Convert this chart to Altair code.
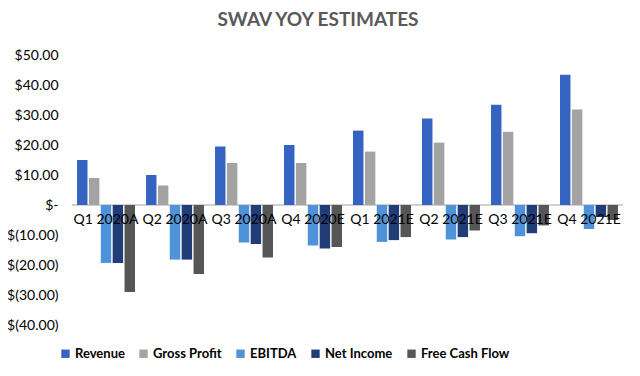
import altair as alt
import pandas as pd

quarters = ["Q1 2020A", "Q2 2020A", "Q3 2020A", "Q4 2020E",
            "Q1 2021E", "Q2 2021E", "Q3 2021E", "Q4 2021E"]
series = ["Revenue", "Gross Profit", "EBITDA", "Net Income", "Free Cash Flow"]
colors = ["#3563C2", "#A3A3A3", "#4E93D9", "#213D78", "#565656"]
y_ticks = [-40, -30, -20, -10, 0, 10, 20, 30, 40, 50]

revenue = [15.0, 10.0, 19.5, 20.0, 24.8, 28.8, 33.4, 43.4]
gross_profit = [9.0, 6.5, 14.0, 14.0, 17.8, 20.8, 24.4, 31.8]
ebitda = [-19.3, -18.2, -12.5, -13.5, -12.3, -11.5, -10.4, -8.0]
net_income = [-19.3, -18.2, -13.0, -14.5, -11.7, -10.7, -9.4, -4.0]
free_cash_flow = [-29.0, -23.0, -17.5, -14.0, -10.7, -8.5, -6.8, -5.0]

title_text = "SWAV YOY ESTIMATES"

values = [revenue, gross_profit, ebitda, net_income, free_cash_flow]
rows = []
for s, vals in zip(series, values):
    for q, v in zip(quarters, vals):
        rows.append({"quarter": q, "series": s, "value": v})
df = pd.DataFrame(rows)
labels_df = pd.DataFrame({"quarter": quarters, "zero": [0] * len(quarters)})
title_df = pd.DataFrame({"t": [title_text]})

FONT = "Lato"

x_scale = alt.Scale(domain=quarters, paddingInner=0.16, paddingOuter=0.073)
y_scale = alt.Scale(domain=[-40, 50], nice=False)

y_axis = alt.Axis(values=y_ticks, title=None, domain=False, ticks=False,
                  grid=False, labelPadding=14, labelFontSize=14, labelFont=FONT,
                  labelColor="#000000", labelOverlap=False, labelBound=False,
                  labelExpr="datum.value == 0 ? '$-' : (datum.value < 0 ? '$(' + format(-datum.value, '.2f') + ')' : '$' + format(datum.value, '.2f'))")

zero = alt.Chart(labels_df).mark_rule(color="#D0D0D0", strokeWidth=1).encode(
    y=alt.Y("zero:Q", scale=y_scale, axis=y_axis))

bars = alt.Chart(df).mark_bar().encode(
    x=alt.X("quarter:N", scale=x_scale, axis=None),
    xOffset=alt.XOffset("series:N", sort=series, scale=alt.Scale(domain=series, paddingInner=0.12)),
    y=alt.Y("value:Q", scale=y_scale, axis=y_axis),
    color=alt.Color("series:N", sort=series, scale=alt.Scale(domain=series, range=colors),
                    legend=alt.Legend(title=None, orient="none", legendX=-13, legendY=292,
                                      direction="horizontal", columns=5, symbolType="square",
                                      symbolSize=70, symbolStrokeWidth=0, columnPadding=12,
                                      labelFont=FONT, labelFontSize=13, labelFontWeight="bold",
                                      labelColor="#000000", labelOffset=3)),
)

cat_labels = alt.Chart(labels_df).mark_text(font=FONT, fontSize=14, color="#000000", dy=15).encode(
    x=alt.X("quarter:N", scale=x_scale, axis=None),
    y=alt.Y("zero:Q", scale=y_scale, axis=y_axis),
    text="quarter:N",
)

title = alt.Chart(title_df).mark_text(font=FONT, fontSize=19, fontWeight="bold",
                                      color="#595959", align="center", baseline="middle").encode(
    x=alt.value(246), y=alt.value(-35), text="t:N")

border = alt.Chart(title_df).mark_rule(color="#D9D9D9").encode(
    x=alt.value(565), y=alt.value(-47), y2=alt.value(313))

chart = alt.layer(zero, bars, cat_labels, title, border).properties(
    width=551, height=270,
    autosize=alt.AutoSizeParams(type="none"),
    padding={"left": 64, "top": 47, "right": 9, "bottom": 43},
).configure_view(stroke=None)

chart.save("out.html", embed_options={"renderer": "svg", "actions": False})
